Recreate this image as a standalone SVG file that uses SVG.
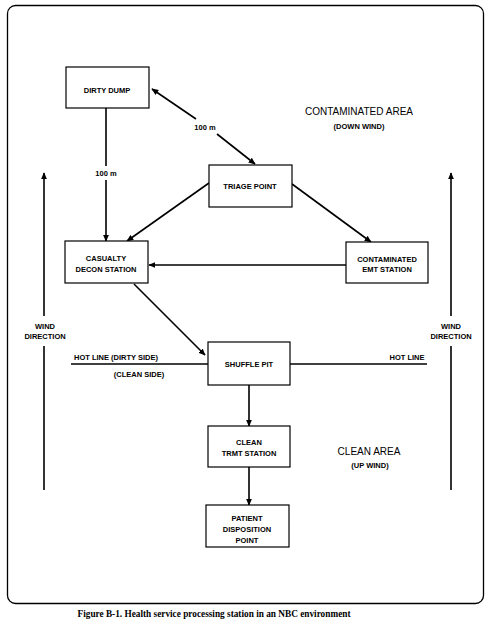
<svg xmlns="http://www.w3.org/2000/svg" width="486" height="620" viewBox="0 0 486 620">
<defs>
<marker id="ah" viewBox="0 0 10 10" refX="9" refY="5" markerWidth="7" markerHeight="6" orient="auto-start-reverse" markerUnits="userSpaceOnUse" preserveAspectRatio="none">
<path d="M0,0 L10,5 L0,10 Z" fill="#000"/>
</marker>
<style>
.box{fill:#fff;stroke:#000;stroke-width:1.2}
.t{font-family:"Liberation Sans",Arial,sans-serif;font-size:7.5px;font-weight:bold;text-anchor:middle;fill:#000}
.big{font-family:"Liberation Sans",Arial,sans-serif;font-size:10px;text-anchor:middle;fill:#000}
.c{stroke:#000;stroke-width:1.6;fill:none}
.cap{font-family:"Liberation Serif","Times New Roman",serif;font-size:9.5px;font-weight:bold;text-anchor:middle;fill:#000}
</style>
</defs>
<rect x="0" y="0" width="486" height="620" fill="#fff"/>
<rect x="7.5" y="5.5" width="476" height="598" rx="8" ry="8" fill="none" stroke="#000" stroke-width="1.3"/>

<g id="connectors">
<line class="c" x1="152" y1="89" x2="196" y2="119" marker-start="url(#ah)"/>
<line class="c" x1="217" y1="134" x2="255" y2="164" marker-end="url(#ah)"/>
<line class="c" x1="106" y1="108" x2="106" y2="166" stroke-width="2"/>
<line class="c" x1="106" y1="180" x2="106" y2="241" stroke-width="2" marker-end="url(#ah)"/>
<line class="c" x1="209" y1="183" x2="127" y2="241" marker-end="url(#ah)"/>
<line class="c" x1="292" y1="184" x2="371" y2="242" marker-end="url(#ah)"/>
<line class="c" x1="346" y1="265" x2="149" y2="265" marker-end="url(#ah)"/>
<line class="c" x1="134" y1="284" x2="205" y2="355" stroke-width="2" marker-end="url(#ah)"/>
<line class="c" x1="249" y1="385" x2="249" y2="426" stroke-width="2" marker-end="url(#ah)"/>
<line class="c" x1="249" y1="467" x2="249" y2="505" stroke-width="2" marker-end="url(#ah)"/>
<line class="c" x1="71" y1="364" x2="208" y2="364" stroke-width="2"/>
<line class="c" x1="290" y1="364" x2="427" y2="364" stroke-width="2"/>
<line class="c" x1="44" y1="490" x2="44" y2="346" stroke-width="2"/>
<line class="c" x1="44" y1="316" x2="44" y2="173" stroke-width="2" marker-end="url(#ah)"/>
<line class="c" x1="451" y1="490" x2="451" y2="346" stroke-width="2"/>
<line class="c" x1="451" y1="316" x2="451" y2="173" stroke-width="2" marker-end="url(#ah)"/>
</g>

<g id="labels">
<text class="t" x="205" y="130" font-size="7">100 m</text>
<text class="t" x="106" y="176" font-size="7">100 m</text>
<text class="big" x="359" y="115">CONTAMINATED AREA</text>
<text class="t" x="359" y="129">(DOWN WIND)</text>
<text class="big" x="369" y="455">CLEAN AREA</text>
<text class="t" x="370" y="468">(UP WIND)</text>
<text class="t" x="45" y="329">WIND</text>
<text class="t" x="45" y="339">DIRECTION</text>
<text class="t" x="451" y="329">WIND</text>
<text class="t" x="451" y="339">DIRECTION</text>
<text class="t" x="116" y="360" font-size="8">HOT LINE (DIRTY SIDE)</text>
<text class="t" x="139" y="377" font-size="8">(CLEAN SIDE)</text>
<text class="t" x="407" y="360" font-size="8">HOT LINE</text>
</g>

<g id="dirty-dump">
<rect class="box" x="66" y="67" width="83" height="41"/>
<text class="t" x="107" y="93">DIRTY DUMP</text>
</g>
<g id="triage-point">
<rect class="box" x="209" y="165" width="83" height="42"/>
<text class="t" x="250" y="189">TRIAGE POINT</text>
</g>
<g id="casualty-decon">
<rect class="box" x="65" y="241" width="83" height="42"/>
<text class="t" x="106" y="261">CASUALTY</text>
<text class="t" x="106" y="272">DECON STATION</text>
</g>
<g id="contaminated-emt">
<rect class="box" x="346" y="242" width="82" height="41"/>
<text class="t" x="387" y="262">CONTAMINATED</text>
<text class="t" x="387" y="272">EMT STATION</text>
</g>
<g id="shuffle-pit">
<rect class="box" x="208" y="342" width="82" height="43"/>
<text class="t" x="249" y="367">SHUFFLE PIT</text>
</g>
<g id="clean-trmt">
<rect class="box" x="208" y="426" width="82" height="41"/>
<text class="t" x="249" y="445">CLEAN</text>
<text class="t" x="249" y="456">TRMT STATION</text>
</g>
<g id="patient-disposition">
<rect class="box" x="206" y="505" width="83" height="42"/>
<text class="t" x="247" y="521">PATIENT</text>
<text class="t" x="247" y="532">DISPOSITION</text>
<text class="t" x="247" y="543">POINT</text>
</g>

<text class="cap" x="214" y="617" textLength="273" lengthAdjust="spacingAndGlyphs">Figure B-1. Health service processing station in an NBC environment</text>
</svg>
